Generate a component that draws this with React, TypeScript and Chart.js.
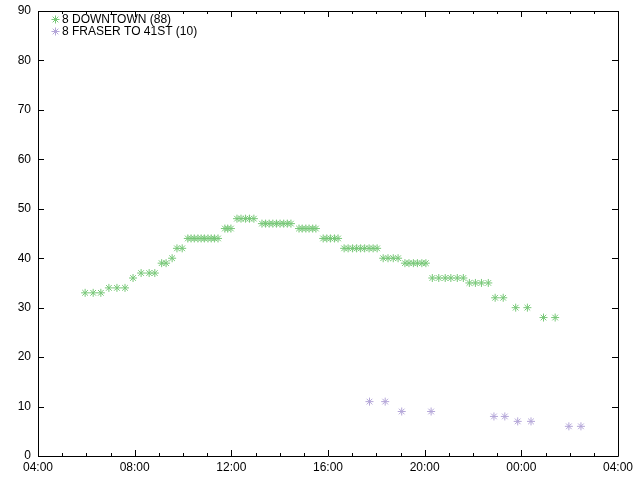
import { useEffect, useRef } from 'react';
import { Chart, registerables } from 'chart.js';

Chart.register(...registerables);

const seriesLabels = ['8 DOWNTOWN', '8 FRASER TO 41ST'];
const seriesColors = ['#78c878', '#b4a6d8'];

const downtownTimes = [
  '05:57', '06:17', '06:36', '06:56', '07:16', '07:36', '07:56', '08:16', '08:36', '08:50',
  '09:07', '09:18', '09:33', '09:45', '09:58', '10:12', '10:20', '10:28', '10:37', '10:45',
  '10:53', '11:02', '11:10', '11:18', '11:27', '11:44', '11:51', '11:59', '12:14', '12:24',
  '12:35', '12:45', '12:56', '13:16', '13:25', '13:34', '13:43', '13:52', '14:01', '14:10',
  '14:19', '14:28', '14:48', '14:56', '15:05', '15:13', '15:22', '15:30', '15:48', '15:57',
  '16:06', '16:16', '16:25', '16:40', '16:50', '17:01', '17:11', '17:21', '17:31', '17:42',
  '17:52', '18:02', '18:17', '18:29', '18:42', '18:54', '19:11', '19:21', '19:32', '19:42',
  '19:53', '20:03', '20:19', '20:35', '20:51', '21:05', '21:21', '21:36', '21:51', '22:06',
  '22:21', '22:38', '22:55', '23:15', '23:46', '00:15', '00:55', '01:24',
];
const downtownValues = [
  33, 33, 33, 34, 34, 34, 36, 37, 37, 37,
  39, 39, 40, 42, 42, 44, 44, 44, 44, 44,
  44, 44, 44, 44, 44, 46, 46, 46, 48, 48,
  48, 48, 48, 47, 47, 47, 47, 47, 47, 47,
  47, 47, 46, 46, 46, 46, 46, 46, 44, 44,
  44, 44, 44, 42, 42, 42, 42, 42, 42, 42,
  42, 42, 40, 40, 40, 40, 39, 39, 39, 39,
  39, 39, 36, 36, 36, 36, 36, 36, 35, 35,
  35, 35, 32, 32, 30, 30, 28, 28,
];

const fraserTimes = ['17:43', '18:22', '19:03', '20:16', '22:52', '23:19', '23:51', '00:24', '01:58', '02:28'];
const fraserValues = [11, 11, 9, 9, 8, 8, 7, 7, 6, 6];

const xTickLabels = ['04:00', '08:00', '12:00', '16:00', '20:00', '00:00', '04:00'];
const yMin = 0;
const yMax = 90;
const yStep = 10;

const X_MIN = 240;
const X_MAX = 240 + 1440;

const toMinutes = (s: string) => {
  const [h, m] = s.split(':').map(Number);
  let v = h * 60 + m;
  if (v < X_MIN) v += 1440;
  return v;
};

const FONT = '"Liberation Sans", Arial, sans-serif';

function drawStar(ctx: CanvasRenderingContext2D, x: number, y: number, r: number) {
  const d = r * Math.SQRT1_2;
  ctx.beginPath();
  ctx.moveTo(x - r, y);
  ctx.lineTo(x + r, y);
  ctx.moveTo(x, y - r);
  ctx.lineTo(x, y + r);
  ctx.moveTo(x - d, y - d);
  ctx.lineTo(x + d, y + d);
  ctx.moveTo(x - d, y + d);
  ctx.lineTo(x + d, y - d);
  ctx.stroke();
}

const framePlugin = {
  id: 'frameTicks',
  afterDraw(chart: any) {
    const { ctx, chartArea } = chart;
    const xs = chart.scales.x;
    const ys = chart.scales.y;
    const { left, right, top, bottom } = chartArea;
    ctx.save();
    ctx.strokeStyle = '#000';
    ctx.lineWidth = 1;
    ctx.beginPath();
    ctx.rect(Math.round(left) + 0.5, Math.round(top) + 0.5, Math.round(right - left), Math.round(bottom - top));
    ctx.stroke();
    ctx.beginPath();
    for (let v = X_MIN; v <= X_MAX; v += 60) {
      const px = Math.round(xs.getPixelForValue(v)) + 0.5;
      const len = (v - X_MIN) % 240 === 0 ? 6 : 3;
      ctx.moveTo(px, bottom);
      ctx.lineTo(px, bottom - len);
      ctx.moveTo(px, top);
      ctx.lineTo(px, top + len);
    }
    for (let v = yMin; v <= yMax; v += yStep) {
      const py = Math.round(ys.getPixelForValue(v)) + 0.5;
      ctx.moveTo(left, py);
      ctx.lineTo(left + 6, py);
      ctx.moveTo(right, py);
      ctx.lineTo(right - 6, py);
    }
    ctx.stroke();

    // legend
    ctx.font = `12px ${FONT}`;
    ctx.textBaseline = 'middle';
    ctx.textAlign = 'left';
    chart.data.datasets.forEach((ds: any, i: number) => {
      const y = top + 8 + i * 12;
      ctx.strokeStyle = ds.borderColor;
      drawStar(ctx, left + 17.5, y + 0.5, 4);
      ctx.fillStyle = '#000';
      ctx.fillText(`${ds.label} (${ds.data.length})`, left + 24, y + 1);
    });
    ctx.restore();
  },
};

export default function App() {
  const canvasRef = useRef<HTMLCanvasElement | null>(null);

  useEffect(() => {
    const canvas = canvasRef.current;
    if (!canvas) return;
    const downtown = downtownTimes.map((t, i) => ({ x: toMinutes(t), y: downtownValues[i] }));
    const fraser = fraserTimes.map((t, i) => ({ x: toMinutes(t), y: fraserValues[i] }));

    const chart = new Chart(canvas, {
      type: 'scatter',
      data: {
        datasets: [
          {
            label: seriesLabels[0],
            data: downtown,
            pointStyle: 'star',
            radius: 4,
            borderWidth: 1,
            borderColor: seriesColors[0],
            backgroundColor: seriesColors[0],
          },
          {
            label: seriesLabels[1],
            data: fraser,
            pointStyle: 'star',
            radius: 4,
            borderWidth: 1,
            borderColor: seriesColors[1],
            backgroundColor: seriesColors[1],
          },
        ],
      },
      options: {
        responsive: false,
        animation: false,
        layout: { padding: { top: 11, right: 22, left: 0, bottom: 0 } },
        plugins: { legend: { display: false }, tooltip: { enabled: false } },
        scales: {
          x: {
            type: 'linear',
            min: X_MIN,
            max: X_MAX,
            grid: { display: false, drawTicks: false },
            border: { display: false },
            afterFit: (scale: any) => {
              scale.height = 24;
              scale.paddingLeft = 0;
              scale.paddingRight = 0;
            },
            ticks: {
              stepSize: 60,
              autoSkip: false,
              maxRotation: 0,
              padding: 4,
              color: '#000',
              font: { family: FONT, size: 12 },
              callback: (v: any) => {
                const n = Number(v) - X_MIN;
                return n % 240 === 0 ? xTickLabels[n / 240] : '';
              },
            },
          },
          y: {
            type: 'linear',
            min: yMin,
            max: yMax,
            grid: { display: false, drawTicks: false },
            border: { display: false },
            afterFit: (scale: any) => {
              scale.width = 38;
              scale.paddingTop = 0;
              scale.paddingBottom = 0;
            },
            ticks: {
              stepSize: yStep,
              padding: 7,
              color: '#000',
              font: { family: FONT, size: 12 },
            },
          },
        },
      },
      plugins: [framePlugin],
    });
    return () => chart.destroy();
  }, []);

  return (
    <div style={{ position: 'fixed', left: 0, top: 0, width: 640, height: 480, background: '#fff' }}>
      <canvas ref={canvasRef} width={640} height={480} style={{ width: 640, height: 480 }} />
    </div>
  );
}
